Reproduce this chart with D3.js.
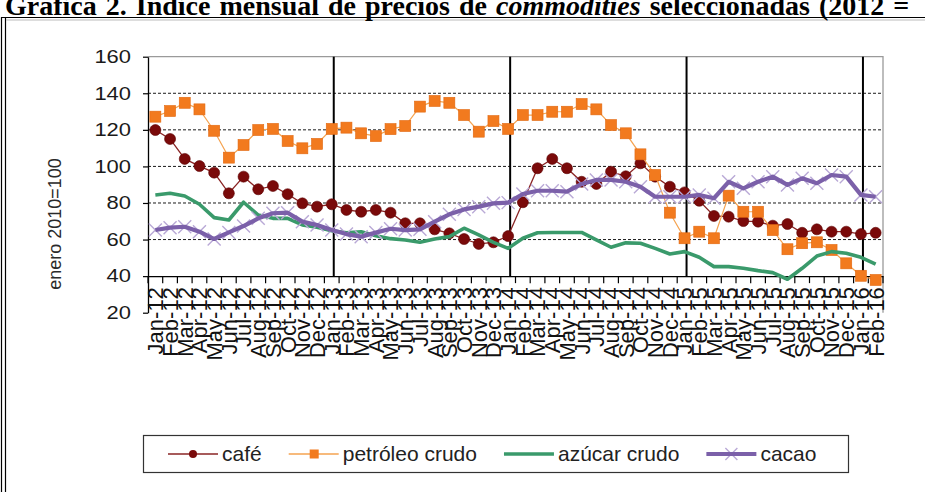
<!DOCTYPE html>
<html>
<head>
<meta charset="utf-8">
<script src="https://cdn.jsdelivr.net/npm/d3@7"></script>
<style>
  html, body { margin: 0; padding: 0; background: #fff; }
  svg { display: block; }
  text { white-space: pre; }
</style>
</head>
<body>
<svg id="chart" width="925" height="492"></svg>
<script>
// Monthly categories, January 2012 to February 2016
const categories = [
  "Jan-12","Feb-12","Mar-12","Apr-12","May-12","Jun-12","Jul-12","Aug-12","Sep-12","Oct-12","Nov-12","Dec-12",
  "Jan-13","Feb-13","Mar-13","Apr-13","May-13","Jun-13","Jul-13","Aug-13","Sep-13","Oct-13","Nov-13","Dec-13",
  "Jan-14","Feb-14","Mar-14","Apr-14","May-14","Jun-14","Jul-14","Aug-14","Sep-14","Oct-14","Nov-14","Dec-14",
  "Jan-15","Feb-15","Mar-15","Apr-15","May-15","Jun-15","Jul-15","Aug-15","Sep-15","Oct-15","Nov-15","Dec-15",
  "Jan-16","Feb-16"
];

// Price indices (enero 2010 = 100)
const cafe = [
  119.9,115,104.1,100.2,96.6,85.3,94.4,87.5,89.3,84.8,79.8,78,
  79.3,76.2,75.2,76.2,74.7,68.9,68.9,65.6,63.4,60.3,57.6,58.5,
  61.9,80.4,99,104.1,99,91.6,90.4,97.1,94.6,101.7,94.4,88.9,
  85.8,81.2,72.9,72.5,70.1,69.8,67.6,68.5,63.7,65.6,64.3,64.3,
  63,63.7
];
const petroleo = [
  127.2,130.3,134.8,131.2,119.5,104.8,111.7,119.9,120.5,113.9,109.9,112.3,
  120.5,121.2,118.1,116.6,120.4,122.1,132.7,135.8,134.8,128.1,119,124.8,
  120.5,128.1,128.1,129.9,129.9,134.1,131.2,122.6,118.1,106.6,95.3,74.7,
  60.7,64.3,60.7,84,75.2,75.2,65.2,54.7,58,58.5,54.3,47,
  40.2,37.9
];
const azucar = [
  84.4,85.3,83.8,79.3,72,70.7,80.4,73.4,71.6,71.6,68,66.7,
  64.8,63.7,64.3,62.1,60.5,59.8,58.5,60.3,61.6,66.2,62.5,58.5,
  55.2,60.7,63.7,63.9,63.9,63.9,59.8,55.8,58.2,58,55.2,52.1,
  53.4,50.3,45.2,45.2,44.3,43,41.9,38.3,44.3,51,53.4,52.5,
  50.3,46.6
];
const cacao = [
  65.2,66.5,67,64.3,60.3,63.9,67.4,71.6,74.4,74.7,69.8,68,
  65.2,63,61.6,63.8,65.9,65.2,65.6,69.8,73.8,76.5,78,79.8,
  80.2,84.9,86.7,86.7,86.2,90.4,92.6,92.6,91.6,88.9,83.4,83.4,
  83.4,84.4,82.6,91.6,88,91.6,94.4,89.9,93.5,90.8,95.3,94.4,
  84.4,83.4
];

const yTicks = [20, 40, 60, 80, 100, 120, 140, 160];
const gridValues = [60, 80, 100, 120, 140];
const categoryAxisAt = 40;
const yearStarts = ["Jan-13", "Jan-14", "Jan-15", "Jan-16"];
const seriesNames = ["café", "petróleo crudo", "azúcar crudo", "cacao"];

const svg = d3.select("#chart");
const sans = "'Liberation Sans', Arial, sans-serif";

// ---- page frame and heading ----
svg.append("line").attr("x1", 1.5).attr("y1", 17).attr("x2", 1.5).attr("y2", 492)
  .attr("stroke", "#000").attr("stroke-width", 1.2);
svg.append("line").attr("x1", 5.5).attr("y1", 17).attr("x2", 5.5).attr("y2", 492)
  .attr("stroke", "#000").attr("stroke-width", 1.2);
svg.append("line").attr("x1", 1).attr("y1", 17.5).attr("x2", 925).attr("y2", 17.5)
  .attr("stroke", "#000").attr("stroke-width", 1.2);
svg.append("line").attr("x1", 6).attr("y1", 20).attr("x2", 925).attr("y2", 20)
  .attr("stroke", "#bbb").attr("stroke-width", 1);

const heading = svg.append("text")
  .attr("x", 5).attr("y", 15)
  .attr("font-family", "'Liberation Serif', 'Times New Roman', serif")
  .attr("font-weight", "bold").attr("font-size", 28).attr("fill", "#000")
  .attr("word-spacing", 2);
heading.append("tspan").text("Gráfica 2. Índice mensual de precios de ");
heading.append("tspan").attr("font-style", "italic").text("commodities");
heading.append("tspan").text(" seleccionadas (2012 =");

// ---- scales ----
const plot = { left: 148, right: 883, top: 56.7, bottom: 312.7 };
const x = d3.scaleBand().domain(categories).range([plot.left, plot.right]).padding(0);
const cx = c => x(c) + x.bandwidth() / 2;
const y = d3.scaleLinear().domain([20, 160]).range([plot.bottom, plot.top]);

// plot-area border (top and right)
svg.append("path")
  .attr("d", `M${plot.left},${plot.top}H${plot.right}V${plot.bottom}`)
  .attr("fill", "none").attr("stroke", "#9a9a9a").attr("stroke-width", 1.3);

// dashed gridlines
svg.append("g").selectAll("line").data(gridValues).join("line")
  .attr("x1", plot.left).attr("x2", plot.right)
  .attr("y1", d => y(d)).attr("y2", d => y(d))
  .attr("stroke", "#1a1a1a").attr("stroke-width", 1)
  .attr("stroke-dasharray", "3,2");

// value axis
const yAxis = svg.append("g").attr("transform", `translate(${plot.left},0)`)
  .call(d3.axisLeft(y).tickValues(yTicks).tickSize(5).tickSizeOuter(0).tickPadding(12));
yAxis.select(".domain").attr("stroke", "#000").attr("stroke-width", 1.3);
yAxis.selectAll(".tick line").attr("stroke", "#000").attr("stroke-width", 1.2);
yAxis.selectAll(".tick text")
  .attr("font-family", sans).attr("font-size", 18).attr("fill", "#1a1a1a")
  .attr("x", -17 / 1.22).attr("transform", "scale(1.22,1)");

svg.append("text")
  .attr("transform", "translate(55,224) rotate(-90)")
  .attr("text-anchor", "middle").attr("dy", "0.35em")
  .attr("font-family", sans).attr("font-size", 18).attr("fill", "#2a2a2a")
  .text("enero 2010=100");

// category axis, crossing the value axis at 40
const xAxis = svg.append("g").attr("transform", `translate(0,${y(categoryAxisAt)})`)
  .call(d3.axisBottom(x).tickSize(0).tickSizeOuter(0));
xAxis.select(".domain").attr("stroke", "#000").attr("stroke-width", 1.3);
xAxis.selectAll(".tick text")
  .attr("transform", "rotate(-90)")
  .attr("x", -11).attr("y", 0).attr("dy", "0.36em")
  .attr("text-anchor", "end")
  .attr("font-family", sans).attr("font-size", 22).attr("fill", "#111");
const boundaries = categories.map(c => x(c)).concat([x.range()[1]]);
xAxis.append("g").selectAll("line").data(boundaries).join("line")
  .attr("x1", d => d).attr("x2", d => d).attr("y1", 0).attr("y2", 7)
  .attr("stroke", "#000").attr("stroke-width", 1.2);

// year separators
svg.append("g").selectAll("line").data(yearStarts).join("line")
  .attr("x1", d => cx(d) + 2).attr("x2", d => cx(d) + 2)
  .attr("y1", y(160)).attr("y2", y(categoryAxisAt))
  .attr("stroke", "#000").attr("stroke-width", 2);

// ---- series ----
const line = d3.line().x((d, i) => cx(categories[i])).y(d => y(d));
const colors = {
  cafeLine: "#8a2424", cafeDot: "#7a0a0a",
  petLine: "#f5a350", petMark: "#f27a1e",
  azucar: "#3a9a6b",
  cacaoLine: "#7b60a9", cacaoMark: "#b9a9d6"
};

// café
svg.append("path").datum(cafe).attr("d", line)
  .attr("fill", "none").attr("stroke", colors.cafeLine).attr("stroke-width", 1.3);
svg.append("g").selectAll("circle").data(cafe).join("circle")
  .attr("cx", (d, i) => cx(categories[i])).attr("cy", d => y(d)).attr("r", 5.5)
  .attr("fill", colors.cafeDot).attr("stroke", "#5c0000").attr("stroke-width", 0.6);

// petróleo crudo
svg.append("path").datum(petroleo).attr("d", line)
  .attr("fill", "none").attr("stroke", colors.petLine).attr("stroke-width", 1.2);
svg.append("g").selectAll("rect").data(petroleo).join("rect")
  .attr("x", (d, i) => cx(categories[i]) - 5.5).attr("y", d => y(d) - 5.5)
  .attr("width", 11).attr("height", 11)
  .attr("fill", colors.petMark).attr("stroke", "#e2680f").attr("stroke-width", 0.6);

// azúcar crudo
svg.append("path").datum(azucar).attr("d", line)
  .attr("fill", "none").attr("stroke", colors.azucar).attr("stroke-width", 3.6)
  .attr("stroke-linejoin", "round");

// cacao
const xMark = s => `M${-s},${-s}L${s},${s}M${-s},${s}L${s},${-s}`;
svg.append("g").selectAll("path").data(cacao).join("path")
  .attr("transform", (d, i) => `translate(${cx(categories[i])},${y(d)})`)
  .attr("d", xMark(6.5))
  .attr("fill", "none").attr("stroke", colors.cacaoMark).attr("stroke-width", 1.4);
svg.append("path").datum(cacao).attr("d", line)
  .attr("fill", "none").attr("stroke", colors.cacaoLine).attr("stroke-width", 4.2)
  .attr("stroke-linejoin", "round");

// ---- legend ----
const legend = svg.append("g");
legend.append("rect").attr("x", 143.5).attr("y", 435.5).attr("width", 705).attr("height", 37)
  .attr("fill", "#fff").attr("stroke", "#333").attr("stroke-width", 1.2);

let lx = 168;
const ly = 454;
seriesNames.forEach((name, k) => {
  const g = legend.append("g");
  if (k === 0) {
    g.append("line").attr("x1", lx).attr("x2", lx + 50).attr("y1", ly).attr("y2", ly)
      .attr("stroke", colors.cafeLine).attr("stroke-width", 1.3);
    g.append("circle").attr("cx", lx + 25).attr("cy", ly).attr("r", 4).attr("fill", colors.cafeDot);
  } else if (k === 1) {
    g.append("line").attr("x1", lx).attr("x2", lx + 50).attr("y1", ly).attr("y2", ly)
      .attr("stroke", colors.petLine).attr("stroke-width", 1.3);
    g.append("rect").attr("x", lx + 21).attr("y", ly - 4.5).attr("width", 9).attr("height", 9)
      .attr("fill", colors.petMark);
  } else if (k === 2) {
    g.append("line").attr("x1", lx).attr("x2", lx + 50).attr("y1", ly).attr("y2", ly)
      .attr("stroke", colors.azucar).attr("stroke-width", 3.6);
  } else {
    g.append("path").attr("transform", `translate(${lx + 25},${ly})`).attr("d", xMark(6))
      .attr("fill", "none").attr("stroke", colors.cacaoMark).attr("stroke-width", 1.4);
    g.append("line").attr("x1", lx).attr("x2", lx + 50).attr("y1", ly).attr("y2", ly)
      .attr("stroke", colors.cacaoLine).attr("stroke-width", 4);
  }
  const t = g.append("text").attr("x", lx + 54).attr("y", ly).attr("dy", "0.35em")
    .attr("font-family", sans).attr("font-size", 21).attr("fill", "#222").text(name);
  lx += 54 + t.node().getComputedTextLength() + 27;
});
</script>
</body>
</html>
